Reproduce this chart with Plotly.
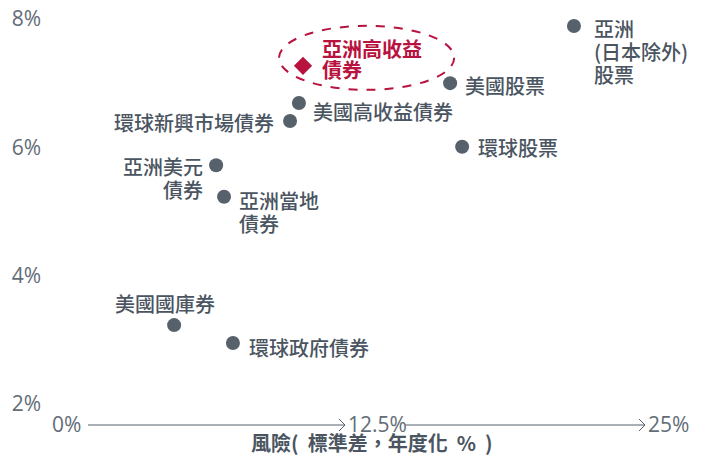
import plotly.graph_objects as go

# ---- data ----
names = ["亞洲(日本除外)股票", "美國股票", "美國高收益債券", "環球新興市場債券", "環球股票",
         "亞洲美元債券", "亞洲當地債券", "美國國庫券", "環球政府債券"]
risk = [22.04, 16.88, 10.58, 10.21, 17.38, 7.13, 7.46, 5.38, 7.83]
ret = [7.89, 7.00, 6.69, 6.41, 6.01, 5.72, 5.23, 3.23, 2.95]
label_lines = [["亞洲", "(日本除外)", "股票"], ["美國股票"], ["美國高收益債券"], ["環球新興市場債券"],
               ["環球股票"], ["亞洲美元", "債券"], ["亞洲當地", "債券"], ["美國國庫券"], ["環球政府債券"]]
# label placement: (align, xshift px, first-line yshift px)
label_pos = [("left", 18, -2), ("left", 13, -2), ("left", 12, -8), ("right", -14, -1),
             ("left", 14, -1), ("right", -11, -1), ("left", 13, -4), ("center", -9, 22),
             ("left", 14, -4)]

hl_name_lines = ["亞洲高收益", "債券"]
hl_risk = [10.75]
hl_ret = [7.27]

x_ticks = [0, 12.5, 25]
x_tick_text = ["0%", "12.5%", "25%"]
y_ticks = [2, 4, 6, 8]
y_tick_text = ["2%", "4%", "6%", "8%"]
x_title = "風險(  標準差，年度化  %  )"

GRAY = "#56616c"
TICK = "#626d77"
TXT = "#4a5561"
RED = "#b8123f"
CJK = "Noto Sans CJK TC"
TFONT = dict(family="Open Sans", size=21, color=TICK)

fig = go.Figure()
fig.add_trace(go.Scatter(x=risk, y=ret, mode="markers",
                         marker=dict(size=14, color=GRAY, line=dict(width=0)),
                         hoverinfo="skip", showlegend=False))
fig.add_trace(go.Scatter(x=hl_risk, y=hl_ret, mode="markers",
                         marker=dict(size=14, color=RED, symbol="diamond", line=dict(width=0)),
                         hoverinfo="skip", showlegend=False))

LH = 23
anns = []
for xv, yv, lines, (al, dx, dy) in zip(risk, ret, label_lines, label_pos):
    for i, ln in enumerate(lines):
        anns.append(dict(x=xv, y=yv, xref="x", yref="y", text=ln, showarrow=False,
                         xanchor=al, yanchor="middle", xshift=dx, yshift=dy - i * LH,
                         font=dict(family=CJK, size=20, color=TXT, weight=500)))
for i, ln in enumerate(hl_name_lines):
    anns.append(dict(x=hl_risk[0], y=hl_ret[0], xref="x", yref="y", text=ln, showarrow=False,
                     xanchor="left", yanchor="middle", xshift=17, yshift=17 - i * 21,
                     font=dict(family=CJK, size=20, color=RED, weight=700)))

# x tick labels sitting on the axis line
for xv, tt in zip(x_ticks, x_tick_text):
    anns.append(dict(x=xv, y=0, xref="x", yref="paper", text=tt, showarrow=False,
                     xanchor="left", yanchor="middle", xshift=5 if xv == 0 else 1, yshift=1,
                     font=TFONT))
anns.append(dict(x=0.495, y=0, xref="paper", yref="paper", text=x_title, showarrow=False,
                 xanchor="center", yanchor="middle", yshift=-17,
                 font=dict(family=CJK, size=20, color=TXT, weight=600)))

shapes = []
# axis arrow segments between labels
for k in range(1, len(x_ticks)):
    start = x_ticks[k - 1] + 1.32 + 0.237 * len(x_tick_text[k - 1])
    end = x_ticks[k]
    shapes.append(dict(type="line", xref="x", yref="paper", x0=start, x1=end, y0=0, y1=0,
                       line=dict(color=GRAY, width=1)))
    shapes.append(dict(type="path", xref="x", yref="paper", xsizemode="pixel", ysizemode="pixel",
                       xanchor=end, yanchor=0, path="M -6,-6 L 0,0 L -6,6",
                       line=dict(color=GRAY, width=1)))
# dashed ellipse around highlight
shapes.append(dict(type="circle", xref="x", yref="y",
                   x0=hl_risk[0] - 1.0, x1=hl_risk[0] + 6.3,
                   y0=hl_ret[0] - 0.374, y1=hl_ret[0] + 0.623,
                   line=dict(color=RED, width=2, dash="dash")))

fig.update_layout(
    width=710, height=457,
    margin=dict(l=45, r=5, t=5, b=32),
    paper_bgcolor="white", plot_bgcolor="white",
    xaxis=dict(range=[0, 27.5], showgrid=False, zeroline=False, showline=False,
               showticklabels=False, ticks=""),
    yaxis=dict(range=[1.673, 8.218], showgrid=False, zeroline=False, showline=False,
               tickvals=y_ticks, ticktext=y_tick_text, ticks="", ticklabelstandoff=3,
               tickfont=TFONT),
    annotations=anns, shapes=shapes, showlegend=False,
)
fig.write_html("out.html")
